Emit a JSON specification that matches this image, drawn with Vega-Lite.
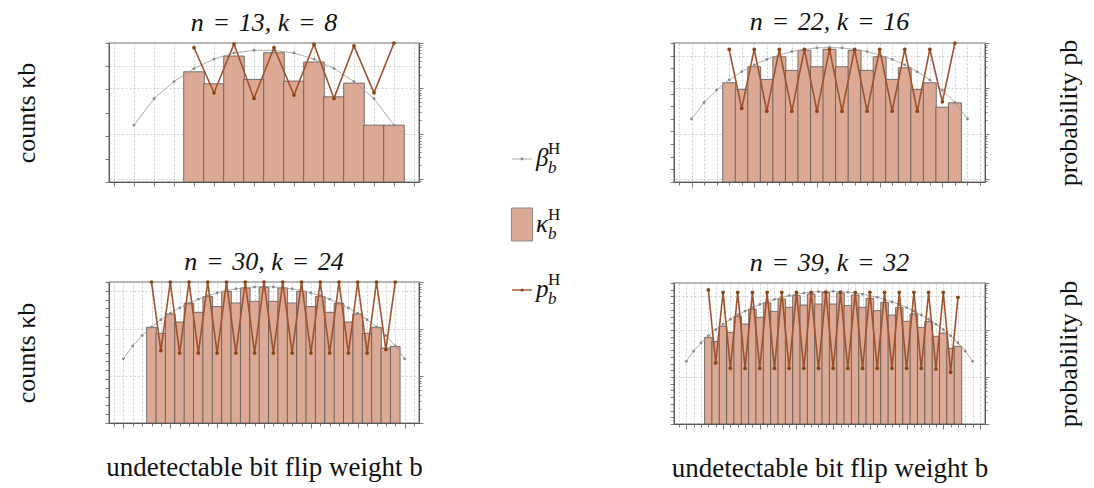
{
  "$schema": "https://vega.github.io/schema/vega-lite/v6.json",
  "background": "white",
  "padding": {"left": 12, "top": 8, "right": 5, "bottom": 5},
  "config": {
    "font": "Liberation Serif",
    "view": {"stroke": "#a0a0a0", "strokeWidth": 1.5},
    "title": {"font": "Liberation Serif", "fontSize": 26, "fontStyle": "italic", "fontWeight": "normal", "color": "#111111", "offset": 4},
    "axis": {
      "labels": false,
      "domainColor": "#5a5a5a",
      "tickColor": "#5a5a5a",
      "tickWidth": 0.8,
      "domainWidth": 1,
      "gridColor": "#c4c4c4",
      "gridDash": [2, 2],
      "gridWidth": 0.8,
      "titleFont": "Liberation Serif",
      "titleFontSize": 26,
      "titleFontWeight": "normal",
      "titleColor": "#111111"
    }
  },
  "datasets": {
    "tl_k": [{"b":3,"v":5.74},{"b":4,"v":1.74},{"b":5,"v":27.4},{"b":6,"v":2.69},{"b":7,"v":38.0},{"b":8,"v":2.27},{"b":9,"v":15.1},{"b":10,"v":0.475},{"b":11,"v":1.86},{"b":12,"v":0.0284},{"b":13,"v":0.0284}],
    "tl_beta": [{"b":0,"v":0.0284},{"b":1,"v":0.398},{"b":2,"v":2.16},{"b":3,"v":7.89},{"b":4,"v":20.3},{"b":5,"v":36.9},{"b":6,"v":48.3},{"b":7,"v":48.3},{"b":8,"v":36.9},{"b":9,"v":20.3},{"b":10,"v":7.89},{"b":11,"v":2.16},{"b":12,"v":0.398},{"b":13,"v":0.0284}],
    "tl_p": [{"b":3,"v":0.787},{"b":4,"v":0.0794},{"b":5,"v":0.95},{"b":6,"v":0.0597},{"b":7,"v":0.795},{"b":8,"v":0.0706},{"b":9,"v":0.936},{"b":10,"v":0.0597},{"b":11,"v":0.859},{"b":12,"v":0.0794},{"b":13,"v":1.0}],
    "tr_k": [{"b":3,"v":0.0711},{"b":4,"v":0.0213},{"b":5,"v":1.32},{"b":6,"v":0.132},{"b":7,"v":8.2},{"b":8,"v":0.684},{"b":9,"v":26.4},{"b":10,"v":1.32},{"b":11,"v":31.6},{"b":12,"v":1.32},{"b":13,"v":26.4},{"b":14,"v":0.684},{"b":15,"v":8.2},{"b":16,"v":0.132},{"b":17,"v":1.1},{"b":18,"v":0.0213},{"b":19,"v":0.0711},{"b":20,"v":0.000841},{"b":21,"v":0.00185}],
    "tr_beta": [{"b":0,"v":9.75e-5},{"b":1,"v":0.00195},{"b":2,"v":0.0188},{"b":3,"v":0.119},{"b":4,"v":0.54},{"b":5,"v":1.83},{"b":6,"v":5.09},{"b":7,"v":11.4},{"b":8,"v":20.8},{"b":9,"v":31.6},{"b":10,"v":40.8},{"b":11,"v":44.0},{"b":12,"v":40.8},{"b":13,"v":31.6},{"b":14,"v":20.8},{"b":15,"v":11.4},{"b":16,"v":5.09},{"b":17,"v":1.83},{"b":18,"v":0.54},{"b":19,"v":0.119},{"b":20,"v":0.0188},{"b":21,"v":0.00195},{"b":22,"v":9.75e-5}],
    "tr_p": [{"b":3,"v":0.726},{"b":4,"v":0.0358},{"b":5,"v":0.726},{"b":6,"v":0.0312},{"b":7,"v":0.726},{"b":8,"v":0.0312},{"b":9,"v":0.726},{"b":10,"v":0.0312},{"b":11,"v":0.726},{"b":12,"v":0.0312},{"b":13,"v":0.726},{"b":14,"v":0.0312},{"b":15,"v":0.726},{"b":16,"v":0.0312},{"b":17,"v":0.726},{"b":18,"v":0.0312},{"b":19,"v":0.726},{"b":20,"v":0.0502},{"b":21,"v":1.0}],
    "bl_k": [{"b":3,"v":7.24e-4},{"b":4,"v":1.51e-4},{"b":5,"v":0.0234},{"b":6,"v":0.00288},{"b":7,"v":0.38},{"b":8,"v":0.0363},{"b":9,"v":2.19},{"b":10,"v":0.162},{"b":11,"v":8.71},{"b":12,"v":0.417},{"b":13,"v":20.9},{"b":14,"v":0.646},{"b":15,"v":25.1},{"b":16,"v":0.646},{"b":17,"v":20.9},{"b":18,"v":0.417},{"b":19,"v":8.71},{"b":20,"v":0.162},{"b":21,"v":2.19},{"b":22,"v":0.0363},{"b":23,"v":0.38},{"b":24,"v":0.00288},{"b":25,"v":0.0234},{"b":26,"v":1.51e-4},{"b":27,"v":7.24e-4},{"b":28,"v":3.24e-6},{"b":29,"v":4.68e-6}],
    "bl_beta": [{"b":0,"v":1.9e-7},{"b":1,"v":5.75e-6},{"b":2,"v":8.32e-5},{"b":3,"v":7.76e-4},{"b":4,"v":0.00525},{"b":5,"v":0.0269},{"b":6,"v":0.112},{"b":7,"v":0.389},{"b":8,"v":1.12},{"b":9,"v":2.75},{"b":10,"v":5.75},{"b":11,"v":10.5},{"b":12,"v":16.6},{"b":13,"v":22.9},{"b":14,"v":27.5},{"b":15,"v":29.5},{"b":16,"v":27.5},{"b":17,"v":22.9},{"b":18,"v":16.6},{"b":19,"v":10.5},{"b":20,"v":5.75},{"b":21,"v":2.75},{"b":22,"v":1.12},{"b":23,"v":0.389},{"b":24,"v":0.112},{"b":25,"v":0.0269},{"b":26,"v":0.00525},{"b":27,"v":7.76e-4},{"b":28,"v":8.32e-5},{"b":29,"v":5.75e-6},{"b":30,"v":1.9e-7}],
    "bl_p": [{"b":3,"v":1.0},{"b":4,"v":0.0347},{"b":5,"v":1.0},{"b":6,"v":0.0308},{"b":7,"v":1.0},{"b":8,"v":0.0308},{"b":9,"v":1.0},{"b":10,"v":0.0308},{"b":11,"v":1.0},{"b":12,"v":0.0308},{"b":13,"v":1.0},{"b":14,"v":0.0308},{"b":15,"v":1.0},{"b":16,"v":0.0308},{"b":17,"v":1.0},{"b":18,"v":0.0308},{"b":19,"v":1.0},{"b":20,"v":0.0308},{"b":21,"v":1.0},{"b":22,"v":0.0308},{"b":23,"v":1.0},{"b":24,"v":0.0308},{"b":25,"v":1.0},{"b":26,"v":0.0308},{"b":27,"v":1.0},{"b":28,"v":0.0365},{"b":29,"v":1.0}],
    "br_k": [{"b":3,"v":8.13e-6},{"b":4,"v":1.86e-6},{"b":5,"v":3.55e-4},{"b":6,"v":4.47e-5},{"b":7,"v":0.011},{"b":8,"v":7.76e-4},{"b":9,"v":0.135},{"b":10,"v":0.00776},{"b":11,"v":1.07},{"b":12,"v":0.0603},{"b":13,"v":4.17},{"b":14,"v":0.24},{"b":15,"v":13.2},{"b":16,"v":0.525},{"b":17,"v":22.9},{"b":18,"v":0.741},{"b":19,"v":40.7},{"b":20,"v":0.741},{"b":21,"v":32.4},{"b":22,"v":0.427},{"b":23,"v":16.2},{"b":24,"v":0.24},{"b":25,"v":5.25},{"b":26,"v":0.0776},{"b":27,"v":1.32},{"b":28,"v":0.017},{"b":29,"v":0.214},{"b":30,"v":0.00195},{"b":31,"v":0.024},{"b":32,"v":2.51e-4},{"b":33,"v":0.00178},{"b":34,"v":1.15e-5},{"b":35,"v":3.55e-5},{"b":36,"v":1.86e-7},{"b":37,"v":3.72e-7}],
    "br_beta": [{"b":0,"v":2.14e-9},{"b":1,"v":7.24e-8},{"b":2,"v":1.23e-6},{"b":3,"v":1.38e-5},{"b":4,"v":1.15e-4},{"b":5,"v":7.41e-4},{"b":6,"v":0.00398},{"b":7,"v":0.0174},{"b":8,"v":0.0661},{"b":9,"v":0.219},{"b":10,"v":0.631},{"b":11,"v":1.585},{"b":12,"v":3.63},{"b":13,"v":7.24},{"b":14,"v":13.2},{"b":15,"v":21.9},{"b":16,"v":31.6},{"b":17,"v":42.7},{"b":18,"v":51.3},{"b":19,"v":57.5},{"b":20,"v":57.5},{"b":21,"v":51.3},{"b":22,"v":42.7},{"b":23,"v":31.6},{"b":24,"v":21.9},{"b":25,"v":13.2},{"b":26,"v":7.24},{"b":27,"v":3.63},{"b":28,"v":1.585},{"b":29,"v":0.631},{"b":30,"v":0.219},{"b":31,"v":0.0661},{"b":32,"v":0.0174},{"b":33,"v":0.00398},{"b":34,"v":7.41e-4},{"b":35,"v":1.15e-4},{"b":36,"v":1.38e-5},{"b":37,"v":1.23e-6},{"b":38,"v":7.24e-8},{"b":39,"v":2.14e-9}],
    "br_p": [{"b":3,"v":0.71},{"b":4,"v":0.0199},{"b":5,"v":0.634},{"b":6,"v":0.0153},{"b":7,"v":0.634},{"b":8,"v":0.0153},{"b":9,"v":0.634},{"b":10,"v":0.0153},{"b":11,"v":0.634},{"b":12,"v":0.0153},{"b":13,"v":0.634},{"b":14,"v":0.0153},{"b":15,"v":0.634},{"b":16,"v":0.0153},{"b":17,"v":0.634},{"b":18,"v":0.0153},{"b":19,"v":0.634},{"b":20,"v":0.0153},{"b":21,"v":0.634},{"b":22,"v":0.0153},{"b":23,"v":0.634},{"b":24,"v":0.0153},{"b":25,"v":0.634},{"b":26,"v":0.0153},{"b":27,"v":0.634},{"b":28,"v":0.0153},{"b":29,"v":0.634},{"b":30,"v":0.0153},{"b":31,"v":0.634},{"b":32,"v":0.0153},{"b":33,"v":0.634},{"b":34,"v":0.0148},{"b":35,"v":0.634},{"b":36,"v":0.0126},{"b":37,"v":0.496}],
    "legend": [{"item":"beta","sym":"β"},{"item":"kappa","sym":"κ"},{"item":"p","sym":"p"}]
  },
  "spacing": 47,
  "hconcat": [
    {
      "spacing": 60,
      "vconcat": [
        {
          "width": 310, "height": 139,
          "title": "n\u2004=\u200413, k\u2004=\u20048",
          "encoding": {"x": {"field": "b", "type": "quantitative", "scale": {"domain": [-1, 14], "nice": false, "zero": false},
            "axis": {"title": null, "values": [-1,0,1,2,3,4,5,6,7,8,9,10,11,12,13,14], "grid": true, "tickSize": 4}}},
          "layer": [
            {
              "encoding": {"y": {"field": "v", "type": "quantitative", "scale": {"type": "log", "domain": [0.0001, 100], "nice": false},
                "axis": {"orient": "left", "title": "counts κb", "titlePadding": 65, "values": [0.0001,0.001,0.01,0.1,1,10,100], "tickSize": 4, "grid": true,
                  "gridOpacity": {"condition": {"test": "datum.value == 10", "value": 1}, "value": 0}}}},
              "layer": [
                {"data": {"name": "tl_k"}, "mark": {"type": "bar", "orient": "vertical", "width": 20.67, "fill": "#dca995", "stroke": "#555555", "strokeWidth": 0.8},
                 "encoding": {"y2": {"datum": 0.0001}}},
                {"data": {"name": "tl_beta"}, "mark": {"type": "line", "color": "#9a9a9a", "strokeWidth": 0.8, "point": {"filled": true, "size": 8, "color": "#8a8a8a"}}}
              ]
            },
            {
              "data": {"name": "tl_p"},
              "mark": {"type": "line", "color": "#a0522d", "strokeWidth": 1.6, "point": {"filled": true, "size": 14, "color": "#8b4513"}},
              "encoding": {"y": {"field": "v", "type": "quantitative", "scale": {"type": "log", "domain": [0.00085, 1], "nice": false},
                "axis": {"orient": "right", "title": null, "values": [0.0009,0.001,0.002,0.003,0.004,0.005,0.006,0.007,0.008,0.009,0.01,0.02,0.03,0.04,0.05,0.06,0.07,0.08,0.09,0.1,0.2,0.3,0.4,0.5,0.6,0.7,0.8,0.9,1],
                  "tickSize": {"condition": {"test": "datum.value == 1 || datum.value == 0.1 || datum.value == 0.01 || datum.value == 0.001", "value": 4}, "value": 2},
                  "grid": true,
                  "gridOpacity": {"condition": {"test": "datum.value == 0.1 || datum.value == 0.01 || datum.value == 0.001", "value": 1}, "value": 0}}}}
            }
          ],
          "resolve": {"scale": {"y": "independent"}}
        },
        {
          "width": 310, "height": 141,
          "title": "n\u2004=\u200430, k\u2004=\u200424",
          "encoding": {"x": {"field": "b", "type": "quantitative", "scale": {"domain": [-1, 31], "nice": false, "zero": false},
            "axis": {"title": "undetectable bit flip weight b", "titleFontSize": 27, "titlePadding": 26, "values": [-1,0,1,2,3,4,5,6,7,8,9,10,11,12,13,14,15,16,17,18,19,20,21,22,23,24,25,26,27,28,29,30,31], "grid": true,
              "tickSize": {"condition": {"test": "datum.value % 5 == 0", "value": 5}, "value": 3}}}},
          "layer": [
            {
              "encoding": {"y": {"field": "v", "type": "quantitative", "scale": {"type": "log", "domain": [1e-14, 100], "nice": false},
                "axis": {"orient": "left", "title": "counts κb", "titlePadding": 65, "values": [1e-14,1e-13,1e-12,1e-11,1e-10,1e-9,1e-8,1e-7,1e-6,1e-5,0.0001,0.001,0.01,0.1,1,10,100], "tickSize": 4, "grid": true,
                  "gridOpacity": {"condition": {"test": "datum.value == 10", "value": 1}, "value": 0}}}},
              "layer": [
                {"data": {"name": "bl_k"}, "mark": {"type": "bar", "orient": "vertical", "width": 9.69, "fill": "#dca995", "stroke": "#555555", "strokeWidth": 0.8},
                 "encoding": {"y2": {"datum": 1e-14}}},
                {"data": {"name": "bl_beta"}, "mark": {"type": "line", "color": "#9a9a9a", "strokeWidth": 0.8, "point": {"filled": true, "size": 8, "color": "#8a8a8a"}}}
              ]
            },
            {
              "data": {"name": "bl_p"},
              "mark": {"type": "line", "color": "#a0522d", "strokeWidth": 1.6, "point": {"filled": true, "size": 14, "color": "#8b4513"}},
              "encoding": {"y": {"field": "v", "type": "quantitative", "scale": {"type": "log", "domain": [0.001, 1], "nice": false},
                "axis": {"orient": "right", "title": null, "values": [0.001,0.002,0.003,0.004,0.005,0.006,0.007,0.008,0.009,0.01,0.02,0.03,0.04,0.05,0.06,0.07,0.08,0.09,0.1,0.2,0.3,0.4,0.5,0.6,0.7,0.8,0.9,1],
                  "tickSize": {"condition": {"test": "datum.value == 1 || datum.value == 0.1 || datum.value == 0.01 || datum.value == 0.001", "value": 4}, "value": 2},
                  "grid": true,
                  "gridOpacity": {"condition": {"test": "datum.value == 0.1 || datum.value == 0.01", "value": 1}, "value": 0}}}}
            }
          ],
          "resolve": {"scale": {"y": "independent"}}
        }
      ]
    },
    {
      "width": 149, "height": 300,
      "view": {"stroke": null},
      "data": {"name": "legend"},
      "encoding": {"y": {"field": "item", "type": "nominal", "scale": {"type": "point", "domain": ["beta", "kappa", "p"], "range": [116, 247], "padding": 0}, "axis": null}},
      "layer": [
        {"transform": [{"filter": "datum.item == 'beta'"}], "mark": {"type": "point", "shape": "M-1,0L1,0", "size": 400, "filled": false, "stroke": "#9a9a9a", "strokeWidth": 0.8, "opacity": 1},
         "encoding": {"x": {"datum": "sym", "type": "nominal", "scale": {"type": "point", "domain": ["sym", "lab"], "range": [50, 64], "padding": 0}, "axis": null}}},
        {"transform": [{"filter": "datum.item == 'beta'"}], "mark": {"type": "circle", "size": 8, "color": "#8a8a8a", "opacity": 1},
         "encoding": {"x": {"datum": "sym", "type": "nominal"}}},
        {"transform": [{"filter": "datum.item == 'kappa'"}], "mark": {"type": "point", "shape": "M-0.64,-1L0.64,-1L0.64,1L-0.64,1Z", "size": 1089, "filled": true, "fill": "#dca995", "stroke": "#8a8a8a", "strokeWidth": 1, "opacity": 1},
         "encoding": {"x": {"datum": "sym", "type": "nominal"}}},
        {"transform": [{"filter": "datum.item == 'p'"}], "mark": {"type": "point", "shape": "M-1,0L1,0", "size": 400, "filled": false, "stroke": "#a0522d", "strokeWidth": 1.4, "opacity": 1},
         "encoding": {"x": {"datum": "sym", "type": "nominal"}}},
        {"transform": [{"filter": "datum.item == 'p'"}], "mark": {"type": "circle", "size": 10, "color": "#8b4513", "opacity": 1},
         "encoding": {"x": {"datum": "sym", "type": "nominal"}}},
        {"mark": {"type": "text", "align": "left", "baseline": "alphabetic", "dy": 7, "fontSize": 25, "fontStyle": "italic", "font": "Liberation Serif", "color": "#111111"},
         "encoding": {"x": {"datum": "lab", "type": "nominal"}, "text": {"field": "sym"}}},
        {"mark": {"type": "text", "text": "b", "align": "left", "baseline": "alphabetic", "dx": 12, "dy": 14, "fontSize": 17, "fontStyle": "italic", "font": "Liberation Serif", "color": "#111111"},
         "encoding": {"x": {"datum": "lab", "type": "nominal"}}},
        {"mark": {"type": "text", "text": "H", "align": "left", "baseline": "alphabetic", "dx": 12, "dy": -5, "fontSize": 17, "font": "Liberation Serif", "color": "#111111"},
         "encoding": {"x": {"datum": "lab", "type": "nominal"}}}
      ]
    },
    {
      "spacing": 60,
      "vconcat": [
        {
          "width": 311, "height": 139,
          "title": "n\u2004=\u200422, k\u2004=\u200416",
          "encoding": {"x": {"field": "b", "type": "quantitative", "scale": {"domain": [-1, 23], "nice": false, "zero": false},
            "axis": {"title": null, "values": [-1,0,1,2,3,4,5,6,7,8,9,10,11,12,13,14,15,16,17,18,19,20,21,22,23], "grid": true,
              "tickSize": {"condition": {"test": "datum.value % 5 == 0", "value": 5}, "value": 3}}}},
          "layer": [
            {
              "encoding": {"y": {"field": "v", "type": "quantitative", "scale": {"type": "log", "domain": [1e-9, 100], "nice": false},
                "axis": {"orient": "left", "title": null, "values": [1e-9,1e-8,1e-7,1e-6,1e-5,0.0001,0.001,0.01,0.1,1,10,100], "tickSize": 4, "grid": true,
                  "gridOpacity": {"condition": {"test": "datum.value == 10", "value": 1}, "value": 0}}}},
              "layer": [
                {"data": {"name": "tr_k"}, "mark": {"type": "bar", "orient": "vertical", "width": 12.96, "fill": "#dca995", "stroke": "#555555", "strokeWidth": 0.8},
                 "encoding": {"y2": {"datum": 1e-9}}},
                {"data": {"name": "tr_beta"}, "mark": {"type": "line", "color": "#9a9a9a", "strokeWidth": 0.8, "point": {"filled": true, "size": 8, "color": "#8a8a8a"}}}
              ]
            },
            {
              "data": {"name": "tr_p"},
              "mark": {"type": "line", "color": "#a0522d", "strokeWidth": 1.6, "point": {"filled": true, "size": 14, "color": "#8b4513"}},
              "encoding": {"y": {"field": "v", "type": "quantitative", "scale": {"type": "log", "domain": [0.00085, 1], "nice": false},
                "axis": {"orient": "right", "title": "probability pb", "titleAngle": 270, "titlePadding": 92, "values": [0.0009,0.001,0.002,0.003,0.004,0.005,0.006,0.007,0.008,0.009,0.01,0.02,0.03,0.04,0.05,0.06,0.07,0.08,0.09,0.1,0.2,0.3,0.4,0.5,0.6,0.7,0.8,0.9,1],
                  "tickSize": {"condition": {"test": "datum.value == 1 || datum.value == 0.1 || datum.value == 0.01 || datum.value == 0.001", "value": 4}, "value": 2},
                  "grid": true,
                  "gridOpacity": {"condition": {"test": "datum.value == 0.1 || datum.value == 0.01 || datum.value == 0.001", "value": 1}, "value": 0}}}}
            }
          ],
          "resolve": {"scale": {"y": "independent"}}
        },
        {
          "width": 311, "height": 141,
          "title": "n\u2004=\u200439, k\u2004=\u200432",
          "encoding": {"x": {"field": "b", "type": "quantitative", "scale": {"domain": [-1, 40], "nice": false, "zero": false},
            "axis": {"title": "undetectable bit flip weight b", "titleFontSize": 27, "titlePadding": 26, "values": [-1,0,1,2,3,4,5,6,7,8,9,10,11,12,13,14,15,16,17,18,19,20,21,22,23,24,25,26,27,28,29,30,31,32,33,34,35,36,37,38,39,40], "grid": true,
              "tickSize": {"condition": {"test": "datum.value % 5 == 0", "value": 5}, "value": 3}}}},
          "layer": [
            {
              "encoding": {"y": {"field": "v", "type": "quantitative", "scale": {"type": "log", "domain": [1e-18, 1000], "nice": false},
                "axis": {"orient": "left", "title": null, "values": [1e-18,1e-17,1e-16,1e-15,1e-14,1e-13,1e-12,1e-11,1e-10,1e-9,1e-8,1e-7,1e-6,1e-5,0.0001,0.001,0.01,0.1,1,10,100,1000], "tickSize": 4, "grid": true,
                  "gridOpacity": {"condition": {"test": "datum.value == 10", "value": 1}, "value": 0}}}},
              "layer": [
                {"data": {"name": "br_k"}, "mark": {"type": "bar", "orient": "vertical", "width": 7.585, "fill": "#dca995", "stroke": "#555555", "strokeWidth": 0.8},
                 "encoding": {"y2": {"datum": 1e-18}}},
                {"data": {"name": "br_beta"}, "mark": {"type": "line", "color": "#9a9a9a", "strokeWidth": 0.8, "point": {"filled": true, "size": 8, "color": "#8a8a8a"}}}
              ]
            },
            {
              "data": {"name": "br_p"},
              "mark": {"type": "line", "color": "#a0522d", "strokeWidth": 1.6, "point": {"filled": true, "size": 14, "color": "#8b4513"}},
              "encoding": {"y": {"field": "v", "type": "quantitative", "scale": {"type": "log", "domain": [0.001, 1], "nice": false},
                "axis": {"orient": "right", "title": "probability pb", "titleAngle": 270, "titlePadding": 92, "values": [0.001,0.002,0.003,0.004,0.005,0.006,0.007,0.008,0.009,0.01,0.02,0.03,0.04,0.05,0.06,0.07,0.08,0.09,0.1,0.2,0.3,0.4,0.5,0.6,0.7,0.8,0.9,1],
                  "tickSize": {"condition": {"test": "datum.value == 1 || datum.value == 0.1 || datum.value == 0.01 || datum.value == 0.001", "value": 4}, "value": 2},
                  "grid": true,
                  "gridOpacity": {"condition": {"test": "datum.value == 0.1 || datum.value == 0.01", "value": 1}, "value": 0}}}}
            }
          ],
          "resolve": {"scale": {"y": "independent"}}
        }
      ]
    }
  ]
}
